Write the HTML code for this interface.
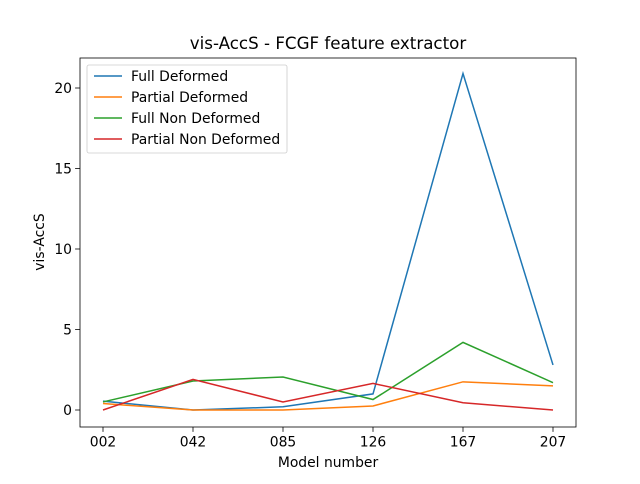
<!DOCTYPE html>
<html><head><meta charset="utf-8"><style>
body{margin:0;background:#fff;font-family:"DejaVu Sans","Liberation Sans",sans-serif;}
</style></head><body>
<svg id="chart" width="640" height="480" viewBox="0 0 640 480" xmlns="http://www.w3.org/2000/svg">
<rect x="0" y="0" width="640" height="480" fill="#fff"/>
<g id="plot"></g>
</svg>
<script>
const categories = ["002","042","085","126","167","207"];
const seriesNames = ["Full Deformed","Partial Deformed","Full Non Deformed","Partial Non Deformed"];
const fullDeformed = [0.55,0.0,0.2,1.0,20.9,2.8];
const partialDeformed = [0.4,0.0,0.0,0.25,1.75,1.5];
const fullNonDeformed = [0.5,1.8,2.05,0.65,4.2,1.7];
const partialNonDeformed = [0.0,1.9,0.5,1.65,0.45,0.0];
const yTicks = [0,5,10,15,20];
const colors = ["#1f77b4","#ff7f0e","#2ca02c","#d62728"];

const NS="http://www.w3.org/2000/svg";
const L=80,R=576,T=58,B=427;
const xScale=i=>103+i*90;
const yScale=v=>410-v*16.1;
const g=document.getElementById('plot');
function mk(tag,attrs,text){const e=document.createElementNS(NS,tag);for(const k in attrs)e.setAttribute(k,attrs[k]);if(text!==undefined)e.textContent=text;g.appendChild(e);return e;}

const frame=mk('rect',{x:L,y:T,width:R-L,height:B-T,fill:'none',stroke:'#000','stroke-width':0.8});



categories.forEach((c,i)=>{
  const x=xScale(i);
  const t=mk('line',{x1:x,x2:x,y1:B,y2:B+4.9,stroke:'#000','stroke-width':0.8});
  
  
  const l=mk('text',{x:x,y:B+19.5,'font-size':13.9,'text-anchor':'middle'},c);
  
  
});
yTicks.forEach(v=>{
  const y=yScale(v);
  const t=mk('line',{x1:L-4.9,x2:L,y1:y,y2:y,stroke:'#000','stroke-width':0.8});
  
  
  const l=mk('text',{x:L-8,y:y+5,'font-size':13.9,'text-anchor':'end'},String(v));
  
  
});

const allSeries=[fullDeformed,partialDeformed,fullNonDeformed,partialNonDeformed];
allSeries.forEach((s,k)=>{
  const p=mk('polyline',{points:s.map((v,i)=>xScale(i)+','+yScale(v)).join(' '),fill:'none',stroke:colors[k],'stroke-width':1.5});
  
  
});

const title=mk('text',{x:328,y:49,'font-size':16.7,'text-anchor':'middle'},'vis-AccS - FCGF feature extractor');


const xt=mk('text',{x:328,y:467,'font-size':13.9,'text-anchor':'middle'},'Model number');


const yt=mk('text',{x:0,y:0,'font-size':13.9,'text-anchor':'middle',transform:'translate(44,242) rotate(-90)'},'vis-AccS');



const lg=mk('rect',{x:87,y:65,width:200,height:88,rx:2,fill:'#fff','fill-opacity':0.8,stroke:'#ccc','stroke-width':0.8});


seriesNames.forEach((n,k)=>{
  const y=76+k*21;
  const ln=mk('line',{x1:94,x2:122,y1:y,y2:y,stroke:colors[k],'stroke-width':1.5});
  
  
  const tx=mk('text',{x:131,y:y+5,'font-size':13.9},n);
  
  
});
</script>
</body></html>
